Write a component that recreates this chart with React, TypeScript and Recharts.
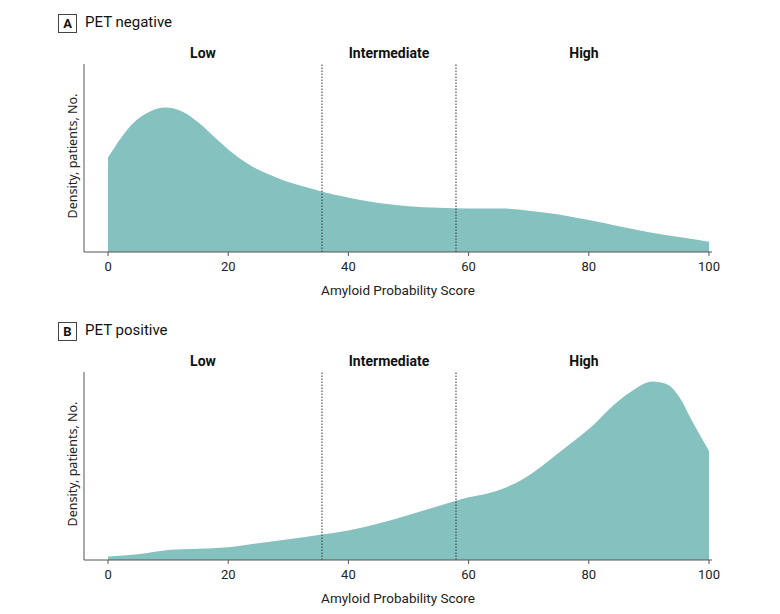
import React from "react";
import {
  AreaChart,
  Area,
  XAxis,
  YAxis,
  ReferenceLine,
  ReferenceArea,
} from "recharts";

// Amyloid probability score (x) and estimated density (y, 0-100 of plot height)
const scoreNeg = [0, 2, 4, 7, 9.5, 12.5, 15, 18, 21, 24, 27, 30, 33, 36, 39, 45, 50, 55, 60, 65, 70, 75, 80, 85, 90, 95, 100];
const densityNeg = [50.2, 60, 68, 74.8, 76.8, 74.5, 69, 60.3, 52, 45.5, 41, 37.3, 34.5, 31.8, 29.6, 26, 24.3, 23.5, 23.2, 23.2, 22, 20, 17, 13.7, 10.5, 8, 5.5];

const scorePos = [0, 5, 10, 15, 20, 25, 30, 35, 40, 45, 50, 55, 60, 63, 66, 69, 72, 75, 78, 81, 84, 87, 90.6, 93, 95, 97.3, 100];
const densityPos = [1.8, 3, 5.3, 6, 6.8, 8.9, 11, 13.3, 15.7, 19.4, 24, 28.7, 33.4, 35.3, 38.3, 43, 49.5, 57, 64.5, 72.5, 82, 89.5, 95, 93.5, 87, 73.3, 58];

const xTicks = [0, 20, 40, 60, 80, 100];
const cutoffs = [35.6, 57.9];
const bandNames = ["Low", "Intermediate", "High"];
const bandEdges = [-4, 35.6, 57.9, 100.5];

const FILL = "#84c1bf";
const AXIS = "#555555";
const SANS = 'Roboto, "Liberation Sans", sans-serif';
const REG = '"Noto Sans", "Open Sans", sans-serif';

type PanelProps = {
  letter: string;
  title: string;
  scores: number[];
  density: number[];
  top: number;
};

function Panel({ letter, title, scores, density, top }: PanelProps) {
  const data = scores.map((s, i) => ({ score: s, density: density[i] }));
  return (
    <div style={{ position: "absolute", left: 0, top, width: 780, height: 306 }}>
      <div
        style={{
          position: "absolute",
          left: 58,
          top: 14,
          width: 17,
          height: 17,
          border: "1px solid #444",
          fontFamily: SANS,
          fontWeight: "bold",
          fontSize: 13,
          lineHeight: "17px",
          textAlign: "center",
          color: "#111",
        }}
      >
        {letter}
      </div>
      <div
        style={{
          position: "absolute",
          left: 85,
          top: 13,
          fontFamily: SANS,
          fontSize: 15,
          lineHeight: "19px",
          color: "#111",
        }}
      >
        {title}
      </div>
      <AreaChart
        width={780}
        height={306}
        data={data}
        margin={{ top: 64, right: 68, bottom: 0, left: 0 }}
      >
        <XAxis
          dataKey="score"
          type="number"
          domain={[-4, 100.5]}
          ticks={xTicks}
          allowDataOverflow
          height={54}
          stroke={AXIS}
          tickSize={4}
          tickMargin={6}
          tick={{ fill: "#222", fontSize: 13, fontFamily: SANS }}
          label={{
            value: "Amyloid Probability Score",
            position: "insideBottom",
            offset: 11,
            fill: "#222",
            fontSize: 13.5,
            fontFamily: SANS,
          }}
        />
        <YAxis
          type="number"
          domain={[0, 100]}
          width={84}
          stroke={AXIS}
          tick={false}
          tickLine={false}
          label={{
            content: (props: any) => {
              const vb = props.viewBox || { x: 0, y: 64, width: 84, height: 188 };
              const cx = vb.x + vb.width - 12;
              const cy = vb.y + vb.height / 2 - 2;
              return (
                <text
                  x={cx}
                  y={cy}
                  transform={`rotate(-90 ${cx} ${cy})`}
                  textAnchor="middle"
                  dominantBaseline="central"
                  fontFamily={REG}
                  fontSize={12.5}
                  fill="#222"
                >
                  Density, patients, No.
                </text>
              );
            },
          }}
        />
        <Area
          type="monotone"
          dataKey="density"
          stroke="none"
          fill={FILL}
          fillOpacity={1}
          isAnimationActive={false}
        />
        {cutoffs.map((c) => (
          <ReferenceLine
            key={c}
            x={c}
            stroke="#333"
            strokeWidth={1}
            strokeDasharray="1.5 1.5"
          />
        ))}
        {bandNames.map((name, i) => (
          <ReferenceArea
            key={name}
            x1={bandEdges[i]}
            x2={bandEdges[i + 1]}
            fill="none"
            fillOpacity={0}
            stroke="none"
            label={{
              value: name,
              position: "top",
              offset: 6,
              fill: "#111",
              fontSize: 14,
              fontWeight: "bold",
              fontFamily: SANS,
            }}
          />
        ))}
      </AreaChart>
    </div>
  );
}

export default function App() {
  return (
    <div style={{ position: "absolute", left: 0, top: 0, width: 780, height: 614, background: "#fff" }}>
      <Panel letter="A" title="PET negative" scores={scoreNeg} density={densityNeg} top={0} />
      <Panel letter="B" title="PET positive" scores={scorePos} density={densityPos} top={308} />
    </div>
  );
}
